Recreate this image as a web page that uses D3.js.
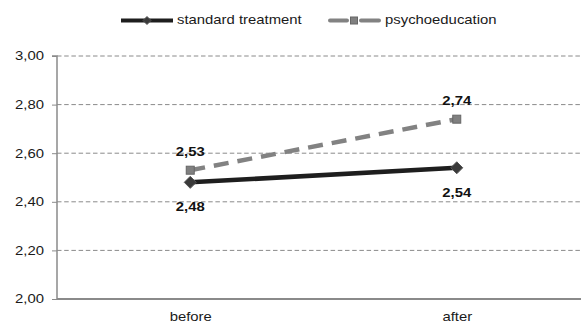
<!DOCTYPE html>
<html><head><meta charset="utf-8">
<script src="https://cdnjs.cloudflare.com/ajax/libs/d3/7.8.5/d3.min.js"></script>
<style>body{margin:0;background:#fff}svg{display:block;font-family:"Liberation Sans",Arial,sans-serif}</style>
</head><body><svg id="c" width="581" height="324"></svg>
<script>
const categories = ["before", "after"];
const seriesNames = ["standard treatment", "psychoeducation"];
const standardValues = [2.48, 2.54];
const psychoValues = [2.53, 2.74];
const yTicks = [2.0, 2.2, 2.4, 2.6, 2.8, 3.0];
const fmt = v => v.toFixed(2).replace(".", ",");

(function () {
const SX = 1.24; // horizontal stretch of text in the reference
const svg = d3.select("#c");
const mLeft = 57, mRight = 590, mTop = 56, mBottom = 299;
const x = d3.scalePoint().domain(categories).range([mLeft, mRight]).padding(0.5);
const y = d3.scaleLinear().domain([2.0, 3.0]).range([mBottom, mTop]);

const stretch = (sel, px, py) => sel.attr("transform", (d, i) => `translate(${typeof px === "function" ? px(d, i) : px},${typeof py === "function" ? py(d, i) : py}) scale(${SX},1)`);

// gridlines
svg.append("g").selectAll("line").data(yTicks.filter(t => t > 2.0)).join("line")
  .attr("x1", mLeft).attr("x2", 581).attr("y1", d => y(d)).attr("y2", d => y(d))
  .attr("stroke", "#8a8a8a").attr("stroke-width", 1).attr("stroke-dasharray", "4.5,2.7");

// y axis
const yAxis = d3.axisLeft(y).tickValues(yTicks).tickFormat(fmt).tickSize(5).tickPadding(8);
const gy = svg.append("g").attr("transform", `translate(${mLeft},0)`).call(yAxis);
gy.select(".domain").attr("stroke", "#8a8a8a").attr("stroke-width", 1.5).attr("d", `M-5,${mTop}H0V${mBottom}`);
gy.selectAll(".tick line").attr("stroke", "#8a8a8a");
gy.selectAll(".tick text").attr("font-size", 12).attr("fill", "#1a1a1a")
  .attr("font-family", "Liberation Sans, Arial, sans-serif")
  .attr("x", -13 / SX).attr("transform", `scale(${SX},1)`);

// x axis
const xAxis = d3.axisBottom(x).tickSize(0).tickPadding(13);
const gx = svg.append("g").attr("transform", `translate(0,${mBottom})`).call(xAxis);
gx.select(".domain").attr("stroke", "#8a8a8a").attr("stroke-width", 2).attr("d", `M${mLeft},0H581`);
gx.selectAll(".tick text").attr("font-size", 12).attr("fill", "#1a1a1a")
  .attr("font-family", "Liberation Sans, Arial, sans-serif")
  .attr("transform", `scale(${SX},1)`);

const line = d3.line().x((d, i) => x(categories[i])).y(d => y(d));

svg.append("path").datum(psychoValues).attr("d", line).attr("fill", "none")
  .attr("stroke", "#828282").attr("stroke-width", 4.5).attr("stroke-dasharray", "15,9");
svg.append("path").datum(standardValues).attr("d", line).attr("fill", "none")
  .attr("stroke", "#1e1e1e").attr("stroke-width", 4.5);

const diamond = s => `M0,${-s}L${s},0L0,${s}L${-s},0Z`;
svg.append("g").selectAll("rect").data(psychoValues).join("rect")
  .attr("x", (d, i) => x(categories[i]) - 4).attr("y", d => y(d) - 4)
  .attr("width", 8).attr("height", 8).attr("fill", "#808080").attr("stroke", "#666").attr("stroke-width", 1);
svg.append("g").selectAll("path").data(standardValues).join("path")
  .attr("transform", (d, i) => `translate(${x(categories[i])},${y(d)})`)
  .attr("d", diamond(6)).attr("fill", "#3a3a3a").attr("stroke", "#555").attr("stroke-width", 1);

const lbl = (vals, dy) => stretch(svg.append("g").selectAll("text").data(vals).join("text"),
    (d, i) => x(categories[i]), d => y(d) + dy)
  .attr("text-anchor", "middle").attr("dominant-baseline", "central")
  .attr("font-size", 12).attr("font-weight", "bold").attr("fill", "#111").text(fmt);
lbl(psychoValues, -18);
lbl(standardValues, 25);

// legend
const lg = svg.append("g");
lg.append("line").attr("x1", 121).attr("x2", 173).attr("y1", 20.5).attr("y2", 20.5).attr("stroke", "#1e1e1e").attr("stroke-width", 4);
lg.append("path").attr("transform", "translate(147,20.5)").attr("d", diamond(4)).attr("fill", "#3a3a3a").attr("stroke", "#555");
stretch(lg.append("text"), 177, 20.5).attr("dominant-baseline", "central").attr("font-size", 12).attr("fill", "#1a1a1a").text(seriesNames[0]);
[[330, 347], [361, 379]].forEach(([a, b]) =>
  lg.append("line").attr("x1", a).attr("x2", b).attr("y1", 20.5).attr("y2", 20.5)
    .attr("stroke", "#828282").attr("stroke-width", 4).attr("stroke-linecap", "round"));
lg.append("rect").attr("x", 350.5).attr("y", 17).attr("width", 7).attr("height", 7).attr("fill", "#808080").attr("stroke", "#666");
stretch(lg.append("text"), 385, 20.5).attr("dominant-baseline", "central").attr("font-size", 12).attr("fill", "#1a1a1a").text(seriesNames[1]);
})();
</script></body></html>
